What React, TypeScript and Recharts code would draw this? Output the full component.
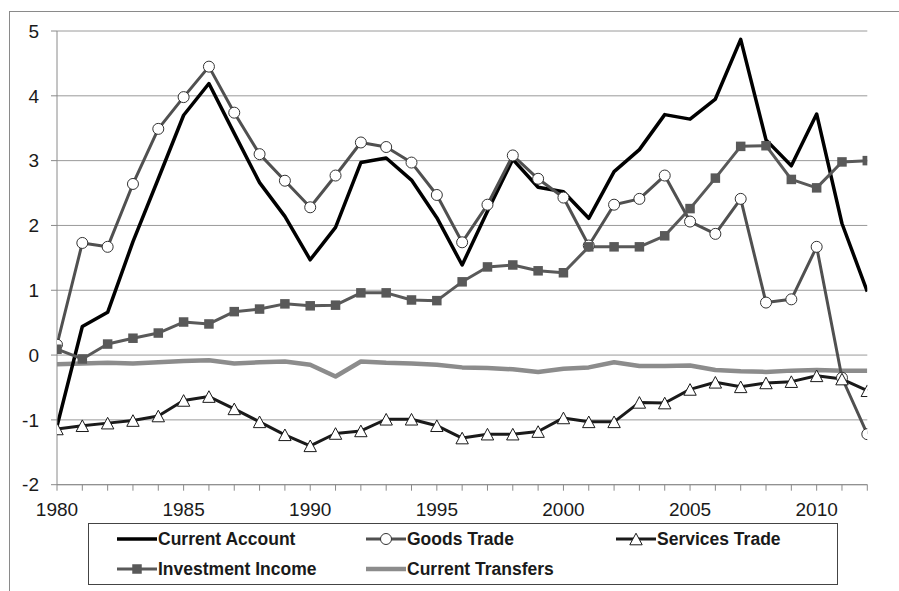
import React from 'react';
import { LineChart, Line, XAxis, YAxis, CartesianGrid } from 'recharts';

const years = [1980,1981,1982,1983,1984,1985,1986,1987,1988,1989,1990,1991,1992,1993,1994,1995,1996,1997,1998,1999,2000,2001,2002,2003,2004,2005,2006,2007,2008,2009,2010,2011,2012];
const currentAccount = [-1.10,0.44,0.66,1.75,2.72,3.70,4.19,3.42,2.66,2.14,1.47,1.97,2.97,3.04,2.70,2.12,1.39,2.22,3.02,2.59,2.52,2.11,2.83,3.17,3.71,3.64,3.95,4.87,3.32,2.92,3.72,2.03,0.98];
const goodsTrade = [0.16,1.73,1.67,2.64,3.49,3.98,4.45,3.74,3.10,2.69,2.28,2.77,3.28,3.21,2.97,2.47,1.74,2.32,3.08,2.72,2.43,1.69,2.32,2.41,2.77,2.06,1.87,2.41,0.81,0.86,1.67,-0.35,-1.22];
const servicesTrade = [-1.14,-1.09,-1.05,-1.01,-0.94,-0.70,-0.64,-0.83,-1.03,-1.23,-1.40,-1.21,-1.17,-0.99,-0.99,-1.09,-1.28,-1.22,-1.22,-1.18,-0.97,-1.03,-1.03,-0.73,-0.74,-0.53,-0.42,-0.49,-0.43,-0.41,-0.32,-0.37,-0.55];
const investmentIncome = [0.09,-0.06,0.17,0.26,0.34,0.51,0.48,0.67,0.71,0.79,0.76,0.77,0.96,0.96,0.85,0.84,1.13,1.36,1.39,1.30,1.27,1.67,1.67,1.67,1.84,2.26,2.73,3.22,3.23,2.71,2.58,2.98,3.00];
const currentTransfers = [-0.14,-0.13,-0.12,-0.13,-0.11,-0.09,-0.08,-0.13,-0.11,-0.10,-0.15,-0.33,-0.10,-0.12,-0.13,-0.15,-0.19,-0.20,-0.22,-0.26,-0.21,-0.19,-0.11,-0.17,-0.17,-0.16,-0.23,-0.25,-0.26,-0.24,-0.23,-0.24,-0.24];
const yTicks = [-2,-1,0,1,2,3,4,5];
const labelYears = [1980,1985,1990,1995,2000,2005,2010];

const data = years.map((year, i) => ({
  year,
  ca: currentAccount[i],
  goods: goodsTrade[i],
  services: servicesTrade[i],
  income: investmentIncome[i],
  transfers: currentTransfers[i],
}));

const FONT = '"Liberation Sans", Arial, sans-serif';

const TriangleDot = (props: any) => {
  const { cx, cy, index } = props;
  if (cx == null || cy == null) return null;
  const w = 6.2, h = 5.8;
  return (
    <polygon
      key={`tri-${index}`}
      points={`${cx},${cy - h} ${cx + w},${cy + h} ${cx - w},${cy + h}`}
      fill="#fff"
      stroke="#1a1a1a"
      strokeWidth={1}
    />
  );
};

const SquareDot = (props: any) => {
  const { cx, cy, index } = props;
  if (cx == null || cy == null) return null;
  const s = 9.5;
  return <rect key={`sq-${index}`} x={cx - s / 2} y={cy - s / 2} width={s} height={s} fill="#595959" />;
};

const LegendItem = ({ left, top, label, kind }: { left: number; top: number; label: string; kind: string }) => {
  let line = '#000';
  let sw = 3.5;
  let marker: React.ReactNode = null;
  if (kind === 'goods') {
    line = '#505050'; sw = 3;
    marker = <circle cx={20} cy={10} r={5.5} fill="#fff" stroke="#333" strokeWidth={1} />;
  } else if (kind === 'services') {
    line = '#1a1a1a'; sw = 3;
    marker = <polygon points="20,4.2 26.2,15.8 13.8,15.8" fill="#fff" stroke="#1a1a1a" strokeWidth={1} />;
  } else if (kind === 'income') {
    line = '#595959'; sw = 3;
    marker = <rect x={15.25} y={5.25} width={9.5} height={9.5} fill="#595959" />;
  } else if (kind === 'transfers') {
    line = '#8c8c8c'; sw = 4.5;
  }
  return (
    <div style={{ position: 'absolute', left, top: top - 10, height: 20, display: 'flex', alignItems: 'center' }}>
      <svg width={40} height={20} style={{ display: 'block' }}>
        <line x1={0} y1={10} x2={40} y2={10} stroke={line} strokeWidth={sw} />
        {marker}
      </svg>
      <span style={{ fontFamily: FONT, fontWeight: 'bold', fontSize: 17.5, color: '#1a1a1a', marginLeft: 1, whiteSpace: 'nowrap', lineHeight: '20px' }}>
        {label}
      </span>
    </div>
  );
};

export default function App() {
  return (
    <div style={{ position: 'fixed', left: 0, top: 0, width: 899, height: 591, background: '#fff', overflow: 'hidden' }}>
      <div style={{ position: 'absolute', left: 9, top: 11, width: 1000, height: 1000, border: '1px solid #8a8a8a', boxSizing: 'border-box' }} />
      <div style={{ position: 'absolute', left: 0, top: 0 }}>
        <LineChart width={899} height={591} data={data} margin={{ top: 31, right: 31.7, bottom: 76.3, left: 17 }}>
          <CartesianGrid horizontal vertical={false} stroke="#9a9a9a" strokeWidth={1} />
          <XAxis
            type="number"
            dataKey="year"
            domain={[1980, 2012]}
            ticks={years}
            interval={0}
            tickFormatter={(v: number) => (labelYears.includes(v) ? String(v) : '')}
            stroke="#8a8a8a"
            tickSize={6}
            tickMargin={12}
            height={30}
            tick={{ fill: '#1a1a1a', fontSize: 19, fontFamily: FONT }}
            allowDataOverflow
          />
          <YAxis
            type="number"
            domain={[-2, 5]}
            ticks={yTicks}
            interval={0}
            width={40}
            stroke="#8a8a8a"
            tickSize={6}
            tickMargin={12}
            tick={{ fill: '#1a1a1a', fontSize: 19, fontFamily: FONT }}
          />
          <Line dataKey="transfers" stroke="#8c8c8c" strokeWidth={4.5} dot={false} isAnimationActive={false} strokeLinejoin="round" />
          <Line dataKey="ca" stroke="#000" strokeWidth={3.5} dot={false} isAnimationActive={false} strokeLinejoin="round" />
          <Line dataKey="goods" stroke="#505050" strokeWidth={3} dot={{ r: 5.5, fill: '#fff', stroke: '#333', strokeWidth: 1 }} isAnimationActive={false} strokeLinejoin="round" />
          <Line dataKey="services" stroke="#1a1a1a" strokeWidth={3} dot={TriangleDot} isAnimationActive={false} strokeLinejoin="round" />
          <Line dataKey="income" stroke="#595959" strokeWidth={3} dot={SquareDot} isAnimationActive={false} strokeLinejoin="round" />
        </LineChart>
      </div>
      <div style={{ position: 'absolute', left: 88, top: 523, width: 750, height: 62, border: '1px solid #444', boxSizing: 'border-box' }} />
      <LegendItem left={117} top={539} label="Current Account" kind="ca" />
      <LegendItem left={366} top={539} label="Goods Trade" kind="goods" />
      <LegendItem left={616} top={539} label="Services Trade" kind="services" />
      <LegendItem left={117} top={568.5} label="Investment Income" kind="income" />
      <LegendItem left={366} top={568.5} label="Current Transfers" kind="transfers" />
    </div>
  );
}
